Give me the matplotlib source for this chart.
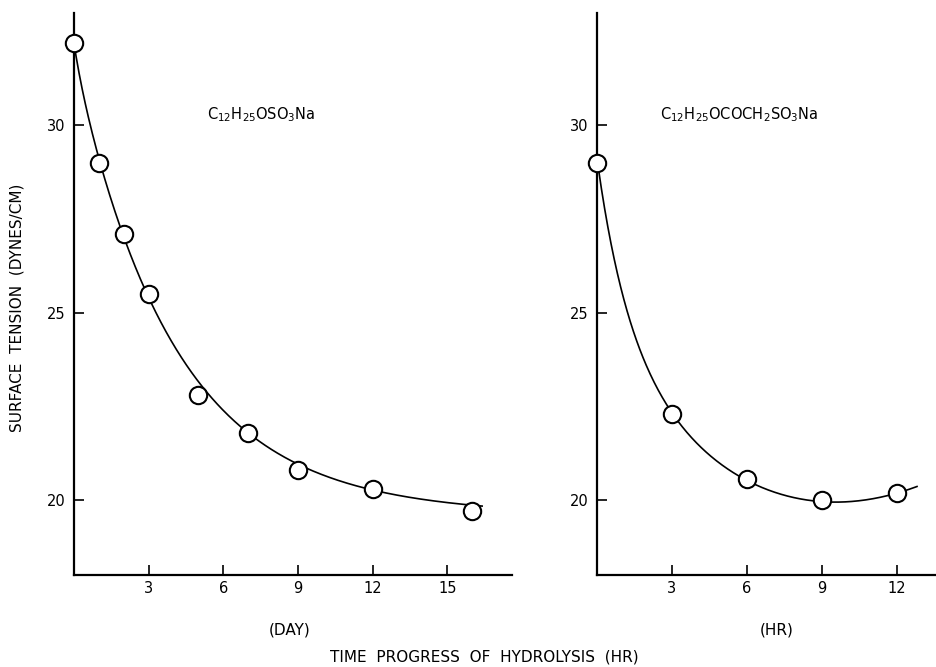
import matplotlib
matplotlib.use("Agg")
import matplotlib.pyplot as plt
import numpy as np

# measured points, left panel (days)
day_x = [0, 1, 2, 3, 5, 7, 9, 12, 16]
day_y = [32.2, 29.0, 27.1, 25.5, 22.8, 21.8, 20.8, 20.3, 19.7]
# hand-drawn trend line, left panel
day_curve_x = [0, 0.4, 1, 2, 3, 4, 5, 6, 7, 8, 9, 10.5, 12, 14, 16.4]
day_curve_y = [32.2, 30.7, 29.05, 27.15, 25.45, 24.15, 23.1, 22.4, 21.85,
               21.3, 20.85, 20.55, 20.3, 20.03, 19.85]

# measured points, right panel (hours)
hr_x = [0, 3, 6, 9, 12]
hr_y = [29.0, 22.3, 20.55, 20.0, 20.2]
hr_curve_x = [0.05, 0.5, 1.2, 2, 3, 4.5, 6, 7.5, 9, 10, 11, 12, 12.8]
hr_curve_y = [28.9, 27.0, 25.1, 23.55, 22.3, 21.2, 20.55, 20.15, 19.95,
              19.93, 20.0, 20.2, 20.38]

day_ticks = [3, 6, 9, 12, 15]
hr_ticks = [3, 6, 9, 12]
y_ticks = [20, 25, 30]

FONT = "DejaVu Sans"
plt.rcParams["font.family"] = [FONT]
plt.rcParams["mathtext.fontset"] = "custom"
plt.rcParams["mathtext.rm"] = FONT


def smooth_curve(x, y, xs):
    """Least-squares fit of a + b*exp(-k1 x) + c*exp(-k2 x) + d*x to the
    curve knots, rates picked by a small grid search."""
    x = np.asarray(x, float)
    y = np.asarray(y, float)
    best = None
    rates = np.linspace(0.05, 3.0, 60)
    for k1 in rates:
        for k2 in rates[rates > k1]:
            A = np.column_stack([np.ones_like(x), np.exp(-k1 * x),
                                 np.exp(-k2 * x), x])
            coef, *_ = np.linalg.lstsq(A, y, rcond=None)
            err = np.sum((A @ coef - y) ** 2)
            if best is None or err < best[0]:
                best = (err, k1, k2, coef)
    _, k1, k2, coef = best
    B = np.column_stack([np.ones_like(xs), np.exp(-k1 * xs),
                         np.exp(-k2 * xs), xs])
    return B @ coef


def style_axes(ax, xmax, ticks):
    ax.set_xlim(0, xmax)
    ax.set_ylim(18, 33)
    for s in ["top", "right"]:
        ax.spines[s].set_visible(False)
    for s in ["left", "bottom"]:
        ax.spines[s].set_linewidth(1.6)
    ax.set_xticks(ticks)
    ax.set_yticks(y_ticks)
    ax.tick_params(direction="in", length=7, width=1.2, labelsize=10.5)
    ax.tick_params(axis="y", pad=6)
    ax.tick_params(axis="x", pad=4)


def draw_panel(ax, px, py, cx, cy):
    xs = np.linspace(cx[0], cx[-1], 400)
    ax.plot(xs, smooth_curve(cx, cy, xs), color="black", lw=1.2, zorder=2)
    ax.plot(px, py, "o", ms=12.5, mfc="white", mec="black", mew=1.5,
            zorder=3, clip_on=False)


W, H = 937, 667
fig = plt.figure(figsize=(W / 100, H / 100), dpi=100)

ax1 = fig.add_axes([74 / W, 1 - 575 / H, (512 - 74) / W, (575 - 13) / H])
ax2 = fig.add_axes([597 / W, 1 - 575 / H, (937 - 597) / W, (575 - 13) / H])

style_axes(ax1, 17.6, day_ticks)
style_axes(ax2, 13.6, hr_ticks)
draw_panel(ax1, day_x, day_y, day_curve_x, day_curve_y)
draw_panel(ax2, hr_x, hr_y, hr_curve_x, hr_curve_y)

ax1.text(207 / W, 1 - 115 / H,
         r"C$_{\mathregular{12}}$H$_{\mathregular{25}}$OSO$_{\mathregular{3}}$Na",
         transform=fig.transFigure, fontsize=10.5, va="center", ha="left")
ax2.text(660 / W, 1 - 115 / H,
         r"C$_{\mathregular{12}}$H$_{\mathregular{25}}$OCOCH$_{\mathregular{2}}$"
         r"SO$_{\mathregular{3}}$Na",
         transform=fig.transFigure, fontsize=10.5, va="center", ha="left")

fig.text(17 / W, 1 - 308 / H, "SURFACE  TENSION  (DYNES/CM)", rotation=90,
         ha="center", va="center", fontsize=11)
fig.text(290 / W, 1 - 630 / H, "(DAY)", ha="center", va="center", fontsize=11)
fig.text(777 / W, 1 - 630 / H, "(HR)", ha="center", va="center", fontsize=11)
fig.text(484 / W, 1 - 657 / H, "TIME  PROGRESS  OF  HYDROLYSIS  (HR)",
         ha="center", va="center", fontsize=11)

fig.savefig("out.png", dpi=100)
